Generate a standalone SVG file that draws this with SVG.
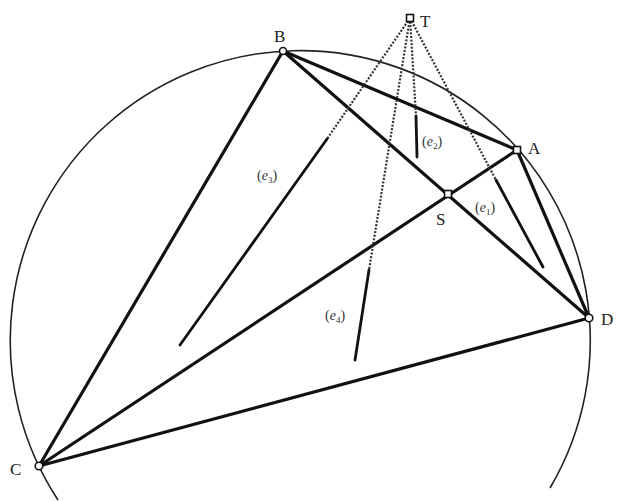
<svg xmlns="http://www.w3.org/2000/svg" width="617" height="501" viewBox="0 0 617 501">
<style>
.thick{stroke:#111;stroke-width:3.2;fill:none;stroke-linecap:round}
.thin{stroke:#222;stroke-width:1.6;fill:none}
.dot{stroke:#333;stroke-width:2.2;fill:none;stroke-dasharray:2 1.6}
.seg{stroke:#111;stroke-width:2.8;fill:none;stroke-linecap:round}
.pt{fill:#fff;stroke:#111;stroke-width:1.6}
.lbl{font-family:"Liberation Serif",serif;font-size:17px;fill:#222}
.el{font-family:"Liberation Serif",serif;font-size:14px;fill:#333}
</style>
<rect width="617" height="501" fill="#fff"/>
<g id="connectors">
<path class="thin" d="M 550,488 A 290 290 0 1 0 58,500"/>
<line class="thick" x1="283" y1="51" x2="39" y2="466"/>
<line class="thick" x1="283" y1="51" x2="517" y2="150"/>
<line class="thick" x1="283" y1="51" x2="589" y2="318"/>
<line class="thick" x1="39" y1="466" x2="517" y2="150"/>
<line class="thick" x1="39" y1="466" x2="589" y2="318"/>
<line class="thick" x1="517" y1="150" x2="589" y2="318"/>
<line class="dot" x1="410" y1="18" x2="327" y2="139"/>
<line class="seg" x1="327" y1="139" x2="180" y2="345"/>
<line class="dot" x1="410" y1="18" x2="369" y2="270"/>
<line class="seg" x1="369" y1="270" x2="355" y2="360"/>
<line class="dot" x1="410" y1="18" x2="416" y2="116"/>
<line class="seg" x1="416" y1="116" x2="417" y2="157"/>
<line class="dot" x1="410" y1="18" x2="496" y2="180"/>
<line class="seg" x1="496" y1="180" x2="543" y2="267"/>
</g>
<g id="T"><rect class="pt" x="406.5" y="14.5" width="7" height="7"/><text class="lbl" x="420" y="27">T</text></g>
<g id="B"><circle class="pt" cx="283" cy="51" r="3.5"/><text class="lbl" x="274" y="42">B</text></g>
<g id="A"><rect class="pt" x="513.5" y="146.5" width="7" height="7"/><text class="lbl" x="528" y="154">A</text></g>
<g id="S"><rect class="pt" x="444.5" y="190.5" width="7" height="7"/><text class="lbl" x="436" y="225">S</text></g>
<g id="D"><circle class="pt" cx="589" cy="318" r="3.8"/><text class="lbl" x="601" y="325">D</text></g>
<g id="C"><circle class="pt" cx="39" cy="466" r="3.8"/><text class="lbl" x="10" y="475">C</text></g>
<g id="labels">
<text class="el" x="475" y="212">(<tspan font-style="italic">e</tspan><tspan font-size="9" dy="3">1</tspan><tspan dy="-3">)</tspan></text>
<text class="el" x="422" y="146">(<tspan font-style="italic">e</tspan><tspan font-size="9" dy="3">2</tspan><tspan dy="-3">)</tspan></text>
<text class="el" x="257" y="180">(<tspan font-style="italic">e</tspan><tspan font-size="9" dy="3">3</tspan><tspan dy="-3">)</tspan></text>
<text class="el" x="325" y="320">(<tspan font-style="italic">e</tspan><tspan font-size="9" dy="3">4</tspan><tspan dy="-3">)</tspan></text>
</g>
</svg>
